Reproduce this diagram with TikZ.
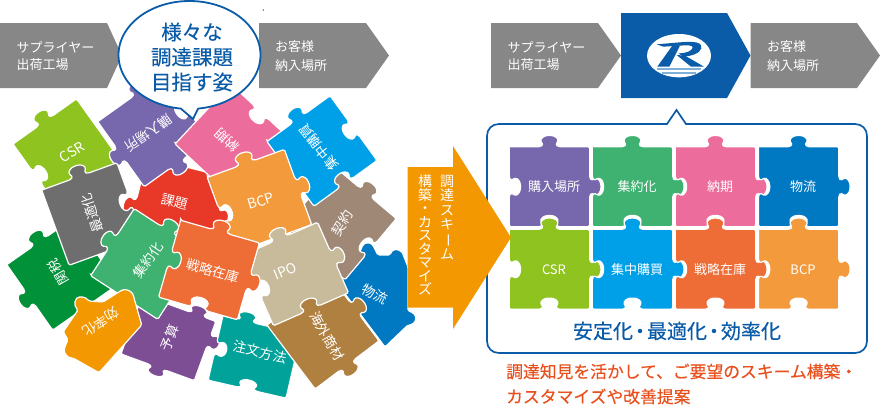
\documentclass[tikz,border=0pt]{standalone}
\usepackage{fontspec}
\setmainfont{Noto Sans CJK JP}
\newfontfamily\medfont[FakeBold=0.35]{Noto Sans CJK JP}
\definecolor{cArrow}{HTML}{878787}
\definecolor{cNavy}{HTML}{0B5CA8}
\definecolor{cOrange}{HTML}{F39800}
\definecolor{cNote}{HTML}{E8501E}
\definecolor{cPur}{HTML}{7768AD}
\definecolor{cGrn}{HTML}{3FB170}
\definecolor{cPink}{HTML}{EC6D9B}
\definecolor{cBlue}{HTML}{0079C2}
\definecolor{cLime}{HTML}{8FC31F}
\definecolor{cSky}{HTML}{00A0E9}
\definecolor{cOR}{HTML}{EE6C35}
\definecolor{cOrg}{HTML}{F39A3C}
\definecolor{cGray}{HTML}{6E6E6E}
\definecolor{cRed}{HTML}{E83828}
\definecolor{cTaupe}{HTML}{A08876}
\definecolor{cBeige}{HTML}{C8BB9B}
\definecolor{cDG}{HTML}{009139}
\definecolor{cVio}{HTML}{7D4E94}
\definecolor{cTeal}{HTML}{00A29A}
\definecolor{cBrown}{HTML}{B08040}
\definecolor{cStripe}{HTML}{7FB0DA}
\tikzset{
  piecefill/.style={draw=white,line width=1.2pt,rounded corners=1.5pt},
  lbl/.style={text=white,inner sep=0pt,font=\fontsize{13.5}{15}\selectfont},
  grid/.style={text=white,inner sep=0pt,font=\fontsize{13}{15}\selectfont},
  latin/.style={text=white,inner sep=0pt,font=\fontsize{14}{16}\selectfont},
  gray text/.style={text=white,inner sep=0pt,anchor=west,font=\fontsize{13}{15}\selectfont},
  head/.style={text=cNavy,inner sep=0pt,font=\medfont\fontsize{20.5}{24}\selectfont},
  note/.style={text=cNote,inner sep=0pt,anchor=west,font=\medfont\fontsize{16.8}{20}\selectfont},
  vcol/.style={text=white,inner sep=0pt,anchor=north,align=center}
}
% one side of a puzzle piece: #1 turn, #2 sign (1 tab, -1 notch, 0 flat), #3 offset
\def\pzE#1#2:#3;{%
  -- ([rotate=#1]{#3-.30},-1)
  .. controls ([rotate=#1]{#3-.20},-1) and ([rotate=#1]{#3-.16},{-1-(#2)*.04}) .. ([rotate=#1]{#3-.19},{-1-(#2)*.10})
  .. controls ([rotate=#1]{#3-.24},{-1-(#2)*.20}) and ([rotate=#1]{#3-.13},{-1-(#2)*.28}) .. ([rotate=#1]{#3},{-1-(#2)*.28})
  .. controls ([rotate=#1]{#3+.13},{-1-(#2)*.28}) and ([rotate=#1]{#3+.24},{-1-(#2)*.20}) .. ([rotate=#1]{#3+.19},{-1-(#2)*.10})
  .. controls ([rotate=#1]{#3+.16},{-1-(#2)*.04}) and ([rotate=#1]{#3+.20},-1) .. ([rotate=#1]{#3+.30},-1)
  -- ([rotate=#1]1,-1)}
% #1 centre, #2 angle, #3 half width, #4 half height, #5 colour, #6-#9 top right bottom left
\newcommand\piece[9]{%
  \begin{scope}[shift={(#1)},rotate=#2,xscale=#3,yscale=#4]
    \path[piecefill,fill=#5] (-1,-1) \pzE{0}#6; \pzE{-90}#7; \pzE{-180}#8; \pzE{-270}#9; -- cycle;
  \end{scope}}
\begin{document}
\begin{tikzpicture}[x=1pt,y=-1pt]
\useasboundingbox (0,0) rectangle (880,413);
% left-hand flow
\fill[cArrow] (0,23) -- (107,23) -- (122,55.5) -- (107,88) -- (0,88) -- cycle;
\fill[cArrow] (259,23) -- (366,23) -- (389,55.5) -- (366,88) -- (259,88) -- cycle;
\node[gray text] (a1) at (16.5,47) {サプライヤー};
\node[gray text] (a2) at (16.5,65) {出荷工場};
\node[gray text] (a3) at (275,47) {お客様};
\node[gray text] (a4) at (275,66) {納入場所};
% jigsaw cluster
\piece{177,207}{-14}{41}{41}{cRed}{0:0}{1:0}{0:0}{1:-0.25}
\piece{68,154}{35.5}{39}{40}{cLime}{1:0}{0:0}{0:0}{-1:0}
\piece{153.5,131}{35.5}{40}{40}{cPur}{1:0.3}{-1:0}{1:0}{1:0}
\piece{233,142}{47}{41}{41}{cPink}{0:0}{-1:0}{0:0}{0:0}
% logistics piece
\path[piecefill,fill=cBlue] (333,278) -- (360,252)
  .. controls (362,246) and (364,243) .. (368,243) .. controls (373,243) and (375,250) .. (378,255)
  -- (390,255) .. controls (392,250) and (395,249) .. (398,250) .. controls (402,251) and (403,254) .. (404,257)
  -- (408,267) -- (408,311) .. controls (413,312) and (416,316) .. (415.5,319) .. controls (415,323) and (411,325) .. (408,325)
  -- (385,347) -- cycle;
\piece{340,223.5}{-40}{40}{40}{cTaupe}{1:0}{-1:0}{0:0}{0:0}
\piece{322,151}{36}{39}{40}{cSky}{1:0}{-1:0}{-1:0}{0:0}
\piece{259.5,201}{20}{41}{40}{cOrg}{1:0}{1:0}{0:0}{-1:0}
\piece{62.5,274.5}{35}{40}{40}{cDG}{1:0}{0:0}{0:0}{1:0}
\piece{93,214}{20}{40}{40}{cGray}{1:0}{-1:0}{0:0}{0:0}
\piece{168.4,337.7}{70}{31.5}{39}{cVio}{0:0}{1:0.5}{1:-0.35}{1:0}
\piece{254.5,357}{-13}{40}{33}{cTeal}{1:-0.4}{0:0}{-1:0}{-1:0}
\piece{323,333}{37}{40}{40}{cBrown}{1:0}{1:0}{1:0}{0:0}
\piece{146,264}{57}{40}{40}{cGrn}{1:0}{1:0}{0:0}{0:0}
\piece{295.5,274}{23.7}{41}{38.5}{cBeige}{1:0}{1:0}{-1:0}{-1:0}
\piece{209,270}{-16}{41}{40}{cOR}{1:0}{1:0}{-1:0}{-1:0}
% efficiency piece
\path[piecefill,fill=cOrange] (63.3,331.7) -- (78,310)
  .. controls (73,305) and (75,297) .. (81,297) .. controls (85,297) and (87,299) .. (89,301)
  -- (103,302) -- (122,290) .. controls (128,289) and (133,292) .. (134,298)
  -- (141.7,325) -- (99,372.7) -- (73,358) .. controls (67,358) and (63,352) .. (65,347) .. controls (66,344) and (67,342) .. (68,340) -- cycle;
% cluster labels
\node[latin,rotate=33] (p1) at (72,152) {CSR};
\node[lbl,rotate=215.5] (p2) at (148,133) {購入場所};
\node[lbl,rotate=138] (p3) at (227,140) {納期};
\node[lbl,rotate=128] (p4) at (318.5,147) {集中購買};
\node[lbl,rotate=108] (p5) at (92,213) {最適化};
\node[lbl,rotate=-14] (p6) at (175,202) {課題};
\node[latin,rotate=17] (p7) at (261,201) {BCP};
\node[lbl,rotate=58] (p8) at (342,223) {契約};
\node[lbl,rotate=120] (p9) at (58,272) {関税};
\node[lbl,rotate=56] (p10) at (148,260) {集約化};
\node[lbl,rotate=-16] (p11) at (213,271) {戦略在庫};
\node[latin,rotate=23] (p12) at (285,271) {IPO};
\node[lbl,rotate=-28] (p13) at (375,294) {物流};
\node[lbl,rotate=-60] (p14) at (327,336) {海外商材};
\node[lbl,rotate=-13] (p15) at (260,352) {注文方法};
\node[lbl,rotate=68] (p16) at (170,338) {予算};
\node[lbl,rotate=214] (p17) at (101,322) {効率化};
% speech bubble
\draw[cNavy,line width=1.8pt,fill=white,line join=round]
  plot[domain=83:-263,samples=120,smooth] ({189.5+71*cos(\x)},{55+54*sin(\x)}) -- (193,119) -- cycle;
\node[head] (b1) at (192,32) {様々な};
\node[head] (b2) at (192,57) {調達課題};
\node[head] (b3) at (192,82) {目指す姿};
% stray specks
\fill (263.3,10) circle (.6);
\fill (822.3,316) circle (.6);
% right-hand flow
\fill[cArrow] (491,23) -- (598,23) -- (621,55.5) -- (598,88) -- (491,88) -- cycle;
\fill[cNavy] (621,13) -- (727,13) -- (750.5,55.5) -- (727,98) -- (621,98) -- cycle;
\fill[cArrow] (750.5,23) -- (857,23) -- (880,55.5) -- (857,88) -- (750.5,88) -- cycle;
\node[gray text] (c1) at (507.5,47) {サプライヤー};
\node[gray text] (c2) at (507.5,65) {出荷工場};
\node[gray text] (c3) at (767,47) {お客様};
\node[gray text] (c4) at (767,66) {納入場所};
% logo
\begin{scope}[shift={(630,25)},scale=.3333]
  \fill[white] (147,92) ellipse [x radius=96,y radius=65];
  \fill[cNavy] (80,58) -- (150,52) .. controls (195,48) and (218,52) .. (214,70) .. controls (210,85) and (185,93) .. (160,95)
     -- (145,85) .. controls (170,85) and (185,78) .. (188,68) .. controls (190,60) and (170,60) .. (150,62) -- (100,65) -- cycle;
  \fill[cNavy] (127,62) -- (150,62) -- (118,125) -- (82,125) -- cycle;
  \fill[cNavy] (140,90) -- (165,92) -- (222,125) -- (183,125) -- cycle;
  \fill[cStripe] (82,129) rectangle (212,135);
  \fill[cStripe] (96,141) rectangle (198,146);
\end{scope}
% outcome panel
\draw[cNavy,line width=1.7pt,fill=white]
  (499,124) -- (667,124) -- (676.5,110) -- (686,124) -- (855,124)
  .. controls (862,124) and (867,129) .. (867,136) -- (867,341)
  .. controls (867,348) and (862,353) .. (855,353) -- (499,353)
  .. controls (492,353) and (487,348) .. (487,341) -- (487,136)
  .. controls (487,129) and (492,124) .. (499,124) -- cycle;
% panel grid
\piece{549.4,186.7}{0}{40.2}{40}{cPur}{1:0}{1:0}{-1:0}{-1:0}
\piece{632.5,186.7}{0}{40.2}{40}{cGrn}{1:0}{1:0}{-1:0}{-1:0}
\piece{715.5,186.7}{0}{40.2}{40}{cPink}{1:0}{1:0}{-1:0}{-1:0}
\piece{798.6,186.7}{0}{40.2}{40}{cBlue}{1:0}{1:0}{-1:0}{-1:0}
\piece{549.4,269.3}{0}{40.2}{40}{cLime}{1:0}{1:0}{-1:0}{-1:0}
\piece{632.5,269.3}{0}{40.2}{40}{cSky}{1:0}{1:0}{-1:0}{-1:0}
\piece{715.5,269.3}{0}{40.2}{40}{cOR}{1:0}{1:0}{-1:0}{-1:0}
\piece{798.6,269.3}{0}{40.2}{40}{cOrg}{1:0}{1:0}{-1:0}{-1:0}
\node[grid] (g1) at (554,187) {購入場所};
\node[grid] (g2) at (637,187) {集約化};
\node[grid] (g3) at (720,187) {納期};
\node[grid] (g4) at (803,187) {物流};
\node[grid] (g5) at (554,269.5) {CSR};
\node[grid] (g6) at (637,269.5) {集中購買};
\node[grid] (g7) at (720,269.5) {戦略在庫};
\node[grid] (g8) at (803,269.5) {BCP};
\node[text=cNavy,inner sep=0pt,font=\medfont\fontsize{20}{24}\selectfont] (t1) at (677,331) {安定化\hspace{-3pt}・\hspace{-3pt}最適化\hspace{-3pt}・\hspace{-3pt}効率化};
\node[note] (t2) at (506,371.5) {調達知見を活かして、ご要望のスキーム構築・};
\node[note] (t3) at (506,396.5) {カスタマイズや改善提案};
% big arrow
\fill[cOrange] (407.5,167) -- (453,167) -- (453,146) -- (511,237.5) -- (453,329) -- (453,307.5) -- (407.5,307.5) -- cycle;
\node[vcol,font=\fontsize{14}{14.3}\selectfont] (v1) at (447,175) {調\\達\\ス\\キ\\\rotatebox[origin=c]{-90}{ー}\\ム};
\node[vcol,font=\fontsize{14}{13.5}\selectfont] (v2) at (425,175) {構\\築\\・\\カ\\ス\\タ\\マ\\イ\\ズ};
\end{tikzpicture}
\end{document}
